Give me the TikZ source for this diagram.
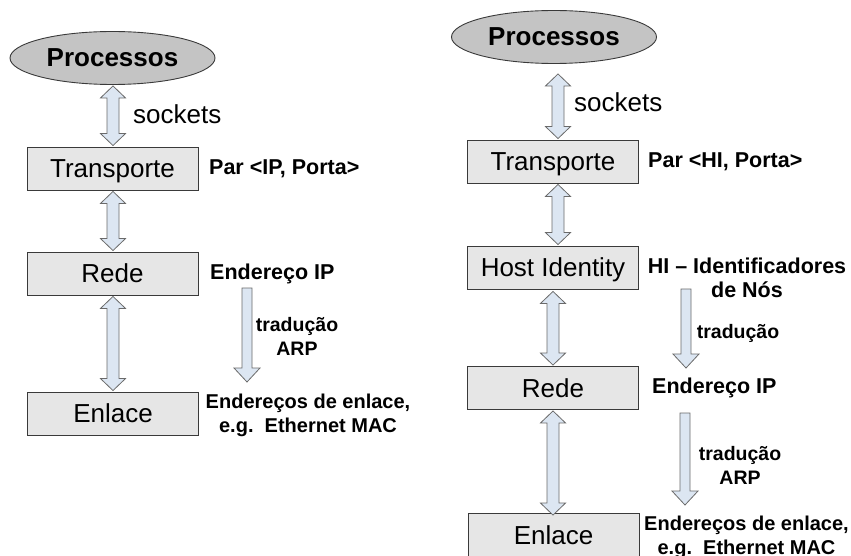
\documentclass[tikz,border=0pt]{standalone}
\usepackage{fontspec}
\setmainfont{Liberation Sans}
\usetikzlibrary{calc,shapes.geometric}

\definecolor{arrowfill}{HTML}{DCE6F2}
\definecolor{arrowline}{HTML}{6A6A6A}
\definecolor{boxfill}{HTML}{E6E6E6}
\definecolor{boxline}{HTML}{3A3A3A}
\definecolor{ellfill}{HTML}{C4C4C4}

\tikzset{
  layer/.style={draw=boxline, fill=boxfill, line width=0.9pt,
    minimum width=171pt, minimum height=43pt, inner sep=0pt,
    text height=18.6pt, text depth=0pt,
    font=\fontsize{26}{30}\selectfont},
  proc/.style={ellipse, draw=boxline, fill=ellfill, line width=0.9pt,
    minimum width=205pt, minimum height=53pt, inner sep=0pt,
    font=\fontsize{26}{30}\selectfont\bfseries},
  lbl/.style={font=\fontsize{21.5}{24}\selectfont\bfseries, align=center, inner sep=0pt},
  addr/.style={font=\fontsize{20}{24}\selectfont\bfseries, align=center, inner sep=0pt},
  note/.style={font=\fontsize{19.5}{24}\selectfont\bfseries, align=center, inner sep=0pt},
  plain/.style={font=\fontsize{26}{30}\selectfont, inner sep=0pt},
  blockarrow/.style={draw=arrowline, fill=arrowfill, line width=0.8pt, line join=miter},
}

% two-headed block arrow between a top point and a bottom point (same x as the top)
\newcommand\dualarrow[2]{%
  \path[blockarrow] let \p1=#1, \p2=#2 in
    (\x1,\y1) -- (\x1+12.5pt,\y1-12pt) -- (\x1+6pt,\y1-12pt)
    -- (\x1+6pt,\y2+12pt) -- (\x1+12.5pt,\y2+12pt) -- (\x1,\y2)
    -- (\x1-12.5pt,\y2+12pt) -- (\x1-6pt,\y2+12pt)
    -- (\x1-6pt,\y1-12pt) -- (\x1-12.5pt,\y1-12pt) -- cycle;}

% one-headed block arrow pointing down
\newcommand\transarrow[2]{%
  \path[blockarrow] let \p1=#1, \p2=#2 in
    (\x1-5pt,\y1) -- (\x1+5pt,\y1) -- (\x1+5pt,\y2+14pt)
    -- (\x1+13pt,\y2+14pt) -- (\x1,\y2) -- (\x1-13pt,\y2+14pt)
    -- (\x1-5pt,\y2+14pt) -- cycle;}

\begin{document}
\begin{tikzpicture}[x=1pt,y=-1pt]
\useasboundingbox (0,0) rectangle (851,556);
\clip (0,0) rectangle (851,556);

% ---------- TCP/IP stack ----------
\node[proc]  (ellA) at (112.5,58)  {Processos};
\node[layer] (trA)  at (112.5,168.5) {Transporte};
\node[layer] (reA)  at (112.5,273.5) {Rede};
\node[layer] (enA)  at (113,413.5) {Enlace};

\node[plain, anchor=west] (sockA) at (133,114) {sockets};
\node[lbl, anchor=west] (parA) at (209,169) {Par <IP, Porta>};
\node[lbl, anchor=west] (ipA)  at (210,274) {Endereço IP};
\node[note] (arpA) at (297,336) {tradução\\ARP};
\node[addr] (macA) at (308,415) {Endereços de enlace,\\e.g.\ \ Ethernet MAC};

\dualarrow{($(ellA.south)+(0.5pt,-1pt)$)}{($(trA.north)+(0,1pt)$)}
\dualarrow{($(trA.south)+(0.5pt,-1pt)$)}{($(reA.north)+(0,1pt)$)}
\dualarrow{($(reA.south)+(0.5pt,-1pt)$)}{($(enA.north)+(0,1pt)$)}

\coordinate (tA1) at (247,288);
\coordinate (tA2) at (247,382);
\transarrow{(tA1)}{(tA2)}

% ---------- stack with Host Identity layer ----------
\node[proc]  (ellB) at (554,37)  {Processos};
\node[layer] (trB)  at (553,161.5) {Transporte};
\node[layer] (hiB)  at (553,267.5) {Host Identity};
\node[layer] (reB)  at (553,388) {Rede};
\node[layer] (enB)  at (553.5,535) {Enlace};

\node[plain, anchor=west] (sockB) at (574,102) {sockets};
\node[lbl, anchor=west] (parB) at (648,162) {Par <HI, Porta>};
\node[lbl] (hiidB) at (747,278) {HI – Identificadores\\de Nós};
\node[note] (trdB) at (738,333) {tradução};
\node[lbl, anchor=west] (ipB)  at (652,388) {Endereço IP};
\node[note] (arpB) at (740,465) {tradução\\ARP};
\node[addr] (macB) at (746.5,537) {Endereços de enlace,\\e.g.\ \ Ethernet MAC};

\dualarrow{($(ellB.south)+(4pt,-10pt)$)}{($(trB.north)+(0,1pt)$)}
\dualarrow{($(trB.south)+(5pt,-1pt)$)}{($(hiB.north)+(0,1pt)$)}
\dualarrow{($(hiB.south)+(0pt,-2pt)$)}{($(reB.north)+(0,1pt)$)}
\dualarrow{($(reB.south)+(0pt,-1pt)$)}{($(enB.north)+(0,-2pt)$)}

\coordinate (tB1) at (686,289);
\coordinate (tB2) at (686,368);
\transarrow{(tB1)}{(tB2)}
\coordinate (tB3) at (685,413);
\coordinate (tB4) at (685,505);
\transarrow{(tB3)}{(tB4)}
\end{tikzpicture}
\end{document}
